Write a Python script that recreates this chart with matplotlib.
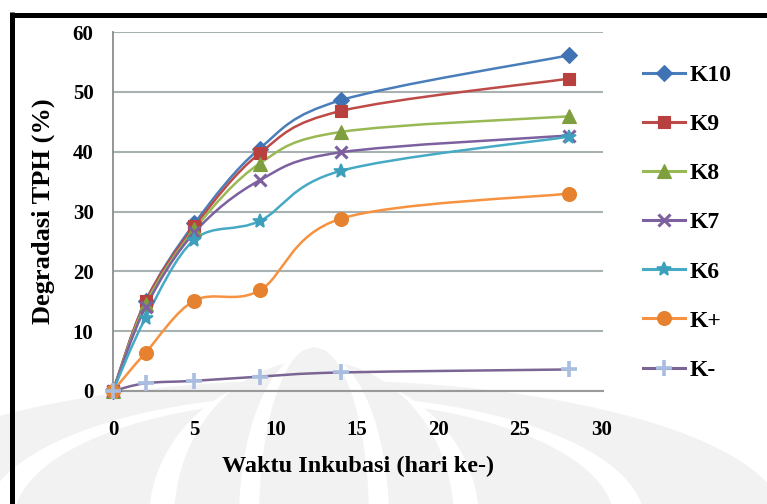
import numpy as np
import matplotlib
matplotlib.use("Agg")
import matplotlib.pyplot as plt
from matplotlib.path import Path
from matplotlib.patches import PathPatch, Polygon
from matplotlib.lines import Line2D

# ---- data ----
days = [0, 2, 5, 9, 14, 28]
K10 = [0.0, 15.0, 28.0, 40.5, 48.6, 56.1]
K9 = [0.0, 15.0, 27.5, 39.7, 46.8, 52.2]
K8 = [0.0, 14.5, 27.0, 38.0, 43.3, 45.9]
K7 = [0.0, 14.0, 26.5, 35.2, 39.9, 42.7]
K6 = [0.0, 12.2, 25.3, 28.4, 36.8, 42.5]
Kplus = [0.0, 6.4, 15.1, 16.8, 28.8, 33.0]
Kminus = [0.0, 1.3, 1.7, 2.4, 3.1, 3.6]
series_names = ["K10", "K9", "K8", "K7", "K6", "K+", "K-"]
x_ticks = [0, 5, 10, 15, 20, 25, 30]
y_ticks = [0, 10, 20, 30, 40, 50, 60]

W, H = 767, 504
fig = plt.figure(figsize=(W / 100, H / 100), dpi=100)
fig.patch.set_facecolor("white")

def fx(px):
    return px / W

def fy(py):
    return 1 - py / H

# ---- faint watermark (pointed arches) ----
def arch(cx, apex_y, half_w, bottom_y=520, n=60):
    pts = []
    for s in np.linspace(0, 1, n):
        yy = bottom_y - (bottom_y - apex_y) * s
        xx = cx - half_w * np.sqrt(1 - s**2)
        pts.append((fx(xx), fy(yy)))
    for s in np.linspace(1, 0, n):
        yy = bottom_y - (bottom_y - apex_y) * s
        xx = cx + half_w * np.sqrt(1 - s**2)
        pts.append((fx(xx), fy(yy)))
    return pts

wm_gray = "#f2f2f2"
arches = [
    (314, 380, 470, wm_gray),
    (314, 395, 330, "white"),
    (314, 400, 300, wm_gray),
    (314, 370, 165, "white"),
    (314, 360, 140, wm_gray),
    (314, 350, 75, "white"),
    (314, 347, 55, wm_gray),
]
for cx, ay, hw, col in arches:
    fig.patches.append(Polygon(arch(cx, ay, hw), closed=True, transform=fig.transFigure,
                               facecolor=col, edgecolor="none", zorder=-10))

# ---- border ----
fig.add_artist(Line2D([fx(11.5), fx(11.5)], [fy(12), fy(510)], color="black", lw=3.6,
                      transform=fig.transFigure, solid_capstyle="butt"))
fig.add_artist(Line2D([fx(9.7), fx(770)], [fy(14.6), fy(14.6)], color="black", lw=3.6,
                      transform=fig.transFigure, solid_capstyle="butt"))

# ---- axes ----
ax = fig.add_axes([fx(113), fy(391), fx(603) - fx(113), fy(32) - fy(391)])
ax.patch.set_alpha(0)
ax.set_xlim(0, 30.1)
ax.set_ylim(0, 60)

font = "Liberation Serif"
ax.set_xticks(x_ticks)
ax.set_yticks(y_ticks)
ax.set_xticklabels([str(v) for v in x_ticks], fontfamily=font, fontweight="bold", fontsize=15)
ax.set_yticklabels([str(v) for v in y_ticks], fontfamily=font, fontweight="bold", fontsize=15)
ax.tick_params(axis="both", length=0)
ax.tick_params(axis="x", pad=21)
ax.tick_params(axis="y", pad=14)
ax.grid(axis="y", color="#a8b2b2", lw=1.5)
ax.set_axisbelow(True)
for s in ["top", "right"]:
    ax.spines[s].set_visible(False)
ax.spines["left"].set_color("#8c8c8c")
ax.spines["left"].set_linewidth(1.3)
ax.spines["bottom"].set_color("#9a9a9a")
ax.spines["bottom"].set_linewidth(1.5)

ax.set_xlabel("Waktu Inkubasi (hari ke-)", fontfamily=font, fontweight="bold", fontsize=17.5, labelpad=11)
ax.set_ylabel("Degradasi TPH (%)", fontfamily=font, fontweight="bold", fontsize=19, labelpad=13)

def smooth_path(xs, ys):
    xs = np.asarray(xs, float)
    ys = np.asarray(ys, float)
    n = len(xs)
    verts = [(xs[0], ys[0])]
    codes = [Path.MOVETO]
    for i in range(n - 1):
        p0 = np.array([xs[max(i - 1, 0)], ys[max(i - 1, 0)]])
        p1 = np.array([xs[i], ys[i]])
        p2 = np.array([xs[i + 1], ys[i + 1]])
        p3 = np.array([xs[min(i + 2, n - 1)], ys[min(i + 2, n - 1)]])
        c1 = p1 + (p2 - p0) / 6.0
        c2 = p2 - (p3 - p1) / 6.0
        verts += [tuple(c1), tuple(c2), tuple(p2)]
        codes += [Path.CURVE4] * 3
    return Path(verts, codes)

styles = [
    (K10, "#4a7ebb", "D", "#3f73b4", 8),
    (K9, "#be4b48", "s", "#b8403e", 9),
    (K8, "#98b954", "^", "#7f9f3e", 10),
    (K7, "#7d60a0", "x", "#7d60a0", 9),
    (K6, "#46aac5", "*", "#3c9fbb", 10),
    (Kplus, "#f69240", "o", "#e5812f", 10),
    (Kminus, "#7a6594", "+", "#a8bde0", 11),
]

handles = []
for (vals, lc, mk, mc, ms), name in zip(styles, series_names):
    ax.add_patch(PathPatch(smooth_path(days, vals), facecolor="none", edgecolor=lc, lw=1.8, zorder=3))
    if mk == "x":
        kw = dict(marker="x", markersize=ms, markeredgecolor=mc, markeredgewidth=2.2)
    elif mk == "+":
        kw = dict(marker="+", markersize=ms, markeredgecolor=mc, markeredgewidth=2.6)
    elif mk == "*":
        kw = dict(marker="*", markersize=ms, markeredgecolor=mc, markerfacecolor=mc, markeredgewidth=1.2)
    else:
        kw = dict(marker=mk, markersize=ms, markerfacecolor=mc, markeredgecolor=mc, markeredgewidth=0.8)
    ax.plot(days, vals, linestyle="none", zorder=4, clip_on=False, **kw)
    handles.append(Line2D([], [], color=lc, lw=2.2, **kw))

leg = fig.legend(handles, series_names, loc="upper left", bbox_to_anchor=(fx(634), fy(55)),
                 frameon=False, prop={"family": font, "size": 17, "weight": "bold"},
                 handlelength=1.75, handletextpad=0.2, labelspacing=1.17, borderaxespad=0)

fig.savefig("out.png", dpi=100)
